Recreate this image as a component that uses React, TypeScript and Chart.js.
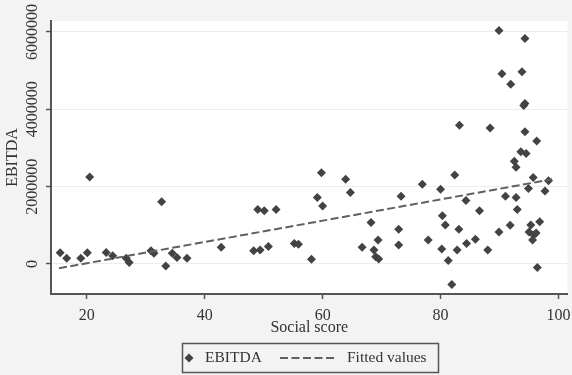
import React, { useEffect, useRef } from "react";
import { Chart, registerables } from "chart.js";

Chart.register(...registerables);

// ---- data ----
const socialScore = [
  15.5, 16.6, 19.0, 20.1, 20.5, 23.3, 24.4, 26.7, 27.2, 30.9, 31.4, 32.7, 33.4, 34.5, 35.3, 37.0,
  42.8, 48.3, 49.4, 50.8, 49.0, 50.1, 52.1, 55.2, 55.9, 58.1, 59.1, 60.0, 59.8, 63.9, 64.7,
  66.7, 68.2, 68.7, 69.0, 69.5, 69.4, 72.9, 72.9, 73.3, 76.9, 77.9, 80.0, 80.3, 80.8, 80.2,
  81.3, 81.9, 82.4, 83.1, 82.8, 83.2, 84.3, 84.4, 85.9, 86.6, 88.0, 88.4, 89.9, 89.9, 90.4,
  91.0, 91.8, 91.9, 92.5, 92.8, 92.8, 93.0, 93.6, 93.8, 94.1, 94.3, 94.3, 94.3, 94.5, 94.9,
  95.0, 95.3, 95.6, 95.8, 96.2, 95.7, 96.3, 96.4, 96.8, 97.7, 98.3,
];
const ebitda = [
  290000, 150000, 150000, 290000, 2250000, 300000, 210000, 150000, 40000, 340000, 280000, 1610000, -50000, 280000, 170000, 150000,
  430000, 340000, 360000, 450000, 1410000, 1380000, 1410000, 530000, 510000, 120000, 1720000, 1500000, 2360000, 2190000, 1850000,
  430000, 1070000, 360000, 190000, 130000, 620000, 900000, 490000, 1750000, 2060000, 620000, 1930000, 1250000, 1010000, 390000,
  90000, -530000, 2300000, 900000, 360000, 3590000, 1640000, 530000, 640000, 1380000, 360000, 3520000, 830000, 6040000, 4920000,
  1750000, 1000000, 4650000, 2660000, 2500000, 1720000, 1410000, 2900000, 4970000, 4100000, 4150000, 5830000, 3420000, 2860000, 1950000,
  830000, 1010000, 620000, 750000, 800000, 2240000, 3180000, -90000, 1090000, 1890000, 2150000,
];
const fittedX = [15.3, 98.9];
const fittedY = [-110000, 2190000];
const xTicks = [20, 40, 60, 80, 100];
const yTicks = [0, 2000000, 4000000, 6000000];
const seriesLabels = ["EBITDA", "Fitted values"];
const xTitle = "Social score";
const yTitle = "EBITDA";

const SERIF = "'Liberation Serif', 'DejaVu Serif', serif";
const OUTER_BG = "#f3f3f3";
const AXIS = "#555555";
const POINT = "#434343";
const FIT = "#606060";

const backgroundPlugin = {
  id: "bgPlugin",
  beforeDraw(chart: any) {
    const { ctx, chartArea, width, height } = chart;
    ctx.save();
    ctx.fillStyle = OUTER_BG;
    ctx.fillRect(0, 0, width, height);
    ctx.fillStyle = "#ffffff";
    ctx.fillRect(chartArea.left, chartArea.top, chartArea.right - chartArea.left, chartArea.bottom - chartArea.top);
    ctx.restore();
  },
};

const legendPlugin = {
  id: "boxLegend",
  afterDraw(chart: any) {
    const ctx = chart.ctx;
    const ds = chart.data.datasets;
    ctx.save();
    ctx.strokeStyle = AXIS;
    ctx.lineWidth = 1.5;
    ctx.strokeRect(182.5, 343.5, 256, 29);
    const cy = 358;
    ctx.fillStyle = POINT;
    ctx.beginPath();
    ctx.moveTo(189, cy - 4.5);
    ctx.lineTo(193.5, cy);
    ctx.lineTo(189, cy + 4.5);
    ctx.lineTo(184.5, cy);
    ctx.closePath();
    ctx.fill();
    ctx.font = `15.5px ${SERIF}`;
    ctx.fillStyle = "#333333";
    ctx.textBaseline = "middle";
    ctx.textAlign = "left";
    ctx.fillText(ds[0].label, 205, cy);
    ctx.strokeStyle = FIT;
    ctx.lineWidth = 2;
    ctx.setLineDash([8, 3.5]);
    ctx.beginPath();
    ctx.moveTo(280, cy);
    ctx.lineTo(336, cy);
    ctx.stroke();
    ctx.setLineDash([]);
    ctx.fillText(ds[1].label, 347, cy);
    ctx.restore();
  },
};

export default function App() {
  const ref = useRef<HTMLCanvasElement | null>(null);

  useEffect(() => {
    if (!ref.current) return;
    const points = socialScore.map((x, i) => ({ x, y: ebitda[i] }));
    const fit = fittedX.map((x, i) => ({ x, y: fittedY[i] }));
    const chart = new Chart(ref.current, {
      type: "scatter",
      data: {
        datasets: [
          {
            label: seriesLabels[0],
            data: points,
            pointStyle: "rectRot",
            pointRadius: 4.5,
            pointBackgroundColor: POINT,
            pointBorderColor: POINT,
            pointBorderWidth: 0,
            showLine: false,
            order: 2,
          },
          {
            label: seriesLabels[1],
            data: fit,
            showLine: true,
            borderColor: FIT,
            borderWidth: 2,
            borderDash: [8, 3.5],
            pointRadius: 0,
            fill: false,
            order: 1,
          },
        ],
      },
      options: {
        responsive: false,
        animation: false,
        devicePixelRatio: 1,
        layout: { padding: { top: 21, right: 1, bottom: 37, left: 0 } },
        plugins: {
          legend: { display: false },
          tooltip: { enabled: false },
        },
        scales: {
          x: {
            type: "linear",
            min: 13.94,
            max: 101.52,
            afterFit: (s: any) => {
              s.height = 44;
              s.paddingLeft = 0;
              s.paddingRight = 0;
            },
            afterBuildTicks: (s: any) => {
              s.ticks = xTicks.map((v) => ({ value: v }));
            },
            ticks: {
              autoSkip: false,
              padding: 7,
              color: "#333333",
              font: { family: SERIF, size: 16 },
            },
            grid: {
              drawOnChartArea: false,
              tickLength: 5,
              tickColor: AXIS,
              tickWidth: 1.5,
            },
            border: { color: AXIS, width: 2 },
            title: {
              display: true,
              text: xTitle,
              color: "#333333",
              font: { family: SERIF, size: 16 },
              padding: { top: 0, bottom: 1 },
            },
          },
          y: {
            type: "linear",
            min: -776000,
            max: 6284000,
            afterFit: (s: any) => {
              s.width = 51;
              s.paddingTop = 0;
              s.paddingBottom = 0;
            },
            afterBuildTicks: (s: any) => {
              s.ticks = yTicks.map((v) => ({ value: v }));
            },
            ticks: {
              autoSkip: false,
              minRotation: 90,
              maxRotation: 90,
              crossAlign: "center",
              padding: -15,
              color: "#333333",
              font: { family: SERIF, size: 16 },
              callback: (v: any) => String(v),
            },
            grid: {
              color: "#ececec",
              lineWidth: 1,
              tickLength: 5,
              tickColor: AXIS,
              tickWidth: 1.5,
            },
            border: { color: AXIS, width: 2 },
            title: {
              display: true,
              text: yTitle,
              color: "#333333",
              font: { family: SERIF, size: 16 },
              padding: { top: 3, bottom: 0 },
            },
          },
        },
      },
      plugins: [backgroundPlugin, legendPlugin],
    });
    return () => chart.destroy();
  }, []);

  return (
    <div style={{ position: "absolute", left: 0, top: 0, width: 572, height: 375 }}>
      <canvas ref={ref} width={572} height={375} style={{ width: 572, height: 375, display: "block" }} />
    </div>
  );
}
